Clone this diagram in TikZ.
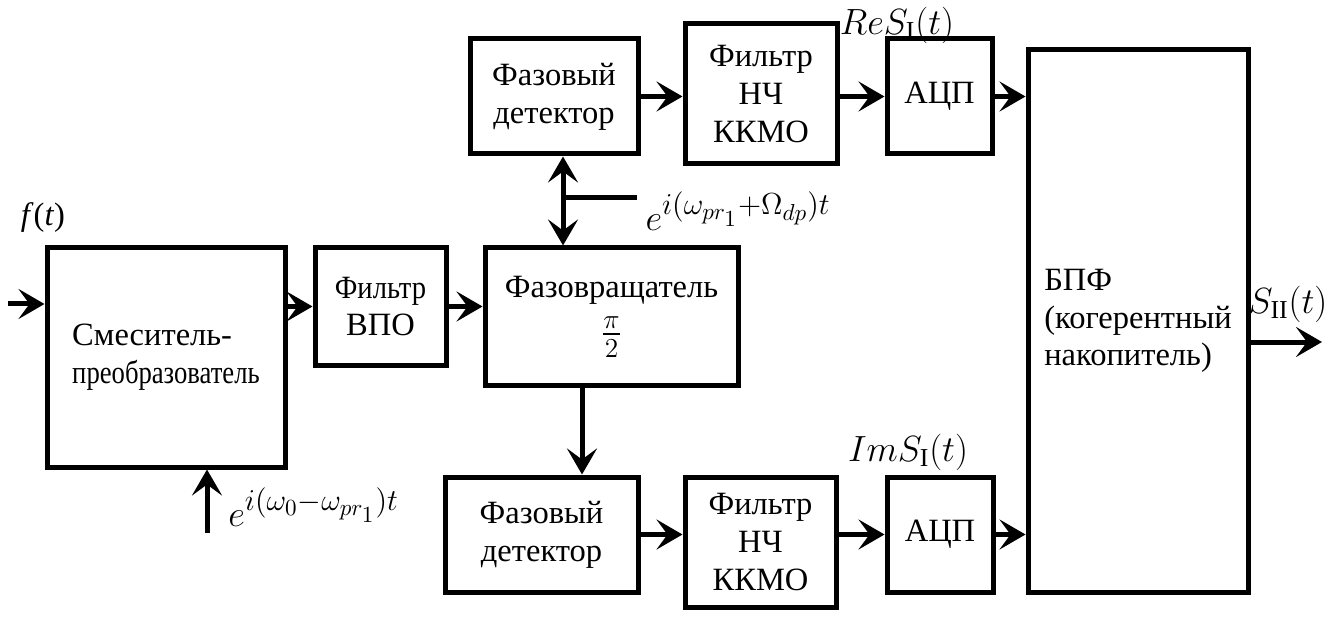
\documentclass[tikz,border=0pt]{standalone}
\usepackage{fontspec}
\setmainfont{Liberation Serif}
\usepackage{amsmath}
\usepackage{graphicx}
\usetikzlibrary{arrows.meta}
\usetikzlibrary{positioning}

\begin{document}
\begin{tikzpicture}[
    blk/.style = {draw, line width=0.1cm, align=center, inner sep=0pt},
    sig/.style = {line width=0.1cm, -{Stealth[length=0.52cm, width=0.6cm, inset=0.22cm]}},
    lbl/.style = {font=\fontsize{21}{24}\selectfont},
    font=\rmfamily\fontsize{18.5}{21.5}\selectfont
  ]
  \useasboundingbox (0, 0) rectangle (26.54, 12.38);

  \node[blk, align=left, minimum width=4.76cm, minimum height=4.38cm] (mix) at (3.32, 5.23) {Смеситель-\\\scalebox{0.82}[1]{преобразователь}};
  \node[blk, minimum width=2.62cm, minimum height=2.34cm] (hpf) at (7.61, 6.25) {\scalebox{0.88}[1]{Фильтр}\\ВПО};
  \node[blk, minimum width=5.06cm, minimum height=2.74cm] (rot) at (12.23, 6.05) {Фазовращатель\\[5pt]\scalebox{1.3}{$\frac{\pi}{2}$}};

  \node[blk, minimum width=3.36cm, minimum height=2.30cm] (pdA) at (11.08, 10.45) {Фазовый\\детектор};
  \node[blk, minimum width=3.04cm, minimum height=2.80cm] (lpfA) at (15.22, 10.50) {Фильтр\\НЧ\\ККМО};
  \node[blk, minimum width=2.10cm, minimum height=2.30cm] (adcA) at (18.79, 10.45) {АЦП};

  \node[blk, minimum width=3.86cm, minimum height=2.30cm] (pdB) at (10.83, 1.69) {Фазовый\\детектор};
  \node[blk, minimum width=3.02cm, minimum height=2.60cm] (lpfB) at (15.21, 1.54) {Фильтр\\НЧ\\ККМО};
  \node[blk, minimum width=2.12cm, minimum height=2.30cm] (adcB) at (18.80, 1.69) {АЦП};

  \node[blk, align=left, minimum width=4.40cm, minimum height=10.84cm] (fft) at (22.76, 5.96) {БПФ\\(когерентный\\накопитель)};

  \coordinate (in) at (0.16, 6.30);
  \coordinate (out) at (26.44, 5.54);
  \coordinate (het) at (4.14, 1.72);
  \coordinate (lo) at (11.26, 8.42);
  \coordinate (loend) at (12.74, 8.42);
  \coordinate (dn) at (11.64, 0);

  \draw[sig] (in) -- (mix.west |- in);
  \draw[sig] (het) -- (het |- mix.south);
  \draw[sig] (mix.east |- hpf) -- (hpf);
  \draw[sig] (hpf) -- (hpf -| rot.west);

  \draw[line width=0.1cm] (loend) -- (lo);
  \draw[sig] (lo) -- (lo |- pdA.south);
  \draw[sig] (lo) -- (lo |- rot.north);
  \draw[sig] (rot.south -| dn) -- (pdB.north -| dn);

  \draw[sig] (pdA) -- (pdA -| lpfA.west);
  \draw[sig] (pdA -| lpfA.east) -- (pdA -| adcA.west);
  \draw[sig] (adcA) -- (adcA -| fft.west);

  \draw[sig] (pdB) -- (pdB -| lpfB.west);
  \draw[sig] (pdB -| lpfB.east) -- (pdB -| adcB.west);
  \draw[sig] (adcB) -- (adcB -| fft.west);

  \draw[sig] (fft.east |- out) -- (out);

  \node (ft) at (0.86, 8.02) {\textit{f}(\textit{t})};
  \node[lbl] (hetlbl) at (6.27, 2.24) {$e^{\scalebox{1.2}{$\scriptstyle i(\omega_0-\omega_{pr_1})t$}}$};
  \node[lbl] (lolbl) at (14.76, 8.16) {$e^{\scalebox{1.2}{$\scriptstyle i(\omega_{pr_1}+\Omega_{dp})t$}}$};
  \node[lbl] (relbl) at (17.94, 11.88) {$ReS_{\mathrm{I}}(t)$};
  \node[lbl] (imlbl) at (18.16, 3.34) {$ImS_{\mathrm{I}}(t)$};
  \node[lbl] (outlbl) at (25.76, 6.30) {$S_{\mathrm{II}}(t)$};
\end{tikzpicture}
\end{document}
